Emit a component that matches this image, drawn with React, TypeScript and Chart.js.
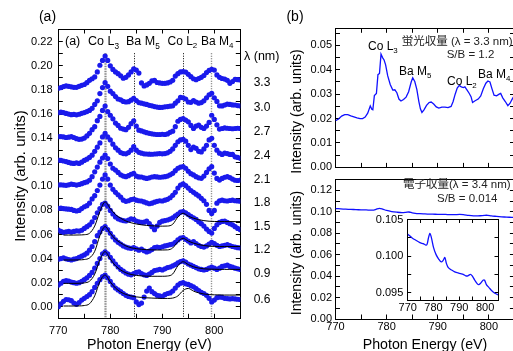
import React, { useEffect, useRef } from 'react';
import { Chart, registerables } from 'chart.js';
Chart.register(...registerables);

const FONT = '"Liberation Sans", Arial, "Noto Sans CJK JP", sans-serif';

// ---------------- Panel (a) data ----------------
const energyA = [
  770, 770.5, 771, 771.5, 772, 772.5, 773, 773.5, 774, 774.5,
  775, 775.5, 776, 776.5, 777, 777.5, 778, 778.5, 779, 779.5,
  780, 780.5, 781, 781.5, 782, 782.5, 783, 783.5, 784, 784.5,
  785, 785.5, 786, 786.5, 787, 787.5, 788, 788.5, 789, 789.5,
  790, 790.5, 791, 791.5, 792, 792.5, 793, 793.5, 794, 794.5,
  795, 795.5, 796, 796.5, 797, 797.5, 798, 798.5, 799, 799.5,
  800, 800.5, 801, 801.5, 802, 802.5, 803, 803.5, 804, 804.5,
  805,
];

const intensity33 = [
  0.1814, 0.1820, 0.1828, 0.1833, 0.1830, 0.1826, 0.1822, 0.1822, 0.1830, 0.1838,
  0.1845, 0.1860, 0.1880, 0.1893, 0.1908, 0.1950, 0.2005, 0.2045, 0.2082, 0.2045,
  0.2000, 0.1970, 0.1950, 0.1935, 0.1918, 0.1897, 0.1905, 0.1925, 0.1950, 0.1975,
  0.1965, 0.1940, 0.1858, 0.1833, 0.1842, 0.1855, 0.1875, 0.1880, 0.1862, 0.1858,
  0.1855, 0.1855, 0.1858, 0.1866, 0.1880, 0.1915, 0.1935, 0.1950, 0.1952, 0.1948,
  0.1930, 0.1910, 0.1893, 0.1885, 0.1895, 0.1905, 0.1920, 0.1945, 0.1962, 0.1972,
  0.1965, 0.1925, 0.1905, 0.1895, 0.1890, 0.1880, 0.1855, 0.1870, 0.1888, 0.1885,
  0.1883,
];
const intensity30 = [
  0.1611, 0.1615, 0.1612, 0.1605, 0.1600, 0.1595, 0.1597, 0.1593, 0.1598, 0.1606,
  0.1612, 0.1620, 0.1630, 0.1647, 0.1680, 0.1710, 0.1770, 0.1820, 0.1860, 0.1830,
  0.1790, 0.1770, 0.1745, 0.1725, 0.1718, 0.1705, 0.1700, 0.1703, 0.1715, 0.1730,
  0.1712, 0.1695, 0.1690, 0.1685, 0.1680, 0.1672, 0.1668, 0.1662, 0.1658, 0.1655,
  0.1656, 0.1660, 0.1662, 0.1665, 0.1668, 0.1690, 0.1710, 0.1738, 0.1735, 0.1725,
  0.1700, 0.1697, 0.1712, 0.1700, 0.1690, 0.1695, 0.1710, 0.1735, 0.1760, 0.1772,
  0.1735, 0.1705, 0.1668, 0.1667, 0.1675, 0.1683, 0.1680, 0.1676, 0.1675, 0.1670,
  0.1667,
];
const intensity27 = [
  0.1412, 0.1413, 0.1410, 0.1405, 0.1408, 0.1412, 0.1405, 0.1395, 0.1390, 0.1392,
  0.1400, 0.1418, 0.1440, 0.1470, 0.1495, 0.1545, 0.1580, 0.1630, 0.1666, 0.1620,
  0.1590, 0.1560, 0.1525, 0.1505, 0.1482, 0.1475, 0.1470, 0.1490, 0.1520, 0.1544,
  0.1500, 0.1466, 0.1460, 0.1452, 0.1445, 0.1440, 0.1436, 0.1432, 0.1430, 0.1430,
  0.1432, 0.1430, 0.1435, 0.1448, 0.1458, 0.1495, 0.1540, 0.1555, 0.1563, 0.1550,
  0.1535, 0.1505, 0.1480, 0.1500, 0.1508, 0.1490, 0.1480, 0.1500, 0.1530, 0.1590,
  0.1555, 0.1510, 0.1475, 0.1480, 0.1485, 0.1482, 0.1480, 0.1478, 0.1480, 0.1482,
  0.1480,
];
const intensity24 = [
  0.1218, 0.1215, 0.1210, 0.1205, 0.1198, 0.1192, 0.1190, 0.1195, 0.1190, 0.1200,
  0.1215, 0.1225, 0.1240, 0.1258, 0.1290, 0.1325, 0.1360, 0.1410, 0.1439, 0.1410,
  0.1385, 0.1350, 0.1320, 0.1300, 0.1280, 0.1272, 0.1270, 0.1280, 0.1300, 0.1329,
  0.1300, 0.1282, 0.1275, 0.1270, 0.1268, 0.1267, 0.1266, 0.1268, 0.1270, 0.1272,
  0.1270, 0.1272, 0.1278, 0.1290, 0.1310, 0.1340, 0.1370, 0.1385, 0.1390, 0.1375,
  0.1340, 0.1305, 0.1325, 0.1315, 0.1290, 0.1285, 0.1310, 0.1340, 0.1385, 0.1398,
  0.1340, 0.1300, 0.1275, 0.1265, 0.1275, 0.1272, 0.1265, 0.1265, 0.1245, 0.1240,
  0.1232,
];
const intensity21 = [
  0.1011, 0.1012, 0.1010, 0.1008, 0.1012, 0.1018, 0.1015, 0.1010, 0.1015, 0.1022,
  0.1030, 0.1036, 0.1050, 0.1080, 0.1120, 0.1160, 0.1200, 0.1235, 0.1260, 0.1230,
  0.1185, 0.1150, 0.1135, 0.1115, 0.1095, 0.1085, 0.1080, 0.1088, 0.1100, 0.1108,
  0.1085, 0.1078, 0.1077, 0.1070, 0.1065, 0.1070, 0.1077, 0.1080, 0.1078, 0.1075,
  0.1077, 0.1080, 0.1085, 0.1095, 0.1108, 0.1130, 0.1150, 0.1160, 0.1163, 0.1150,
  0.1125, 0.1105, 0.1094, 0.1080, 0.1070, 0.1066, 0.1085, 0.1115, 0.1145, 0.1163,
  0.1110, 0.1065, 0.1052, 0.1065, 0.1075, 0.1080, 0.1072, 0.1060, 0.1050, 0.1048,
  0.1052,
];
const intensity18 = [
  0.0817, 0.0818, 0.0815, 0.0812, 0.0810, 0.0808, 0.0800, 0.0795, 0.0800, 0.0815,
  0.0830, 0.0839, 0.0860, 0.0895, 0.0922, 0.0965, 0.1010, 0.1060, 0.1094, 0.1060,
  0.1010, 0.0975, 0.0950, 0.0930, 0.0910, 0.0885, 0.0875, 0.0880, 0.0890, 0.0894,
  0.0885, 0.0880, 0.0878, 0.0870, 0.0862, 0.0855, 0.0860, 0.0868, 0.0875, 0.0880,
  0.0878, 0.0885, 0.0892, 0.0905, 0.0925, 0.0950, 0.0985, 0.1010, 0.1020, 0.1005,
  0.0985, 0.0965, 0.0950, 0.0935, 0.0920, 0.0900, 0.0880, 0.0850, 0.0800, 0.0775,
  0.0800, 0.0860, 0.0880, 0.0885, 0.0880, 0.0878, 0.0882, 0.0885, 0.0880, 0.0878,
  0.0876,
];
const intensity15 = [
  0.0637, 0.0625, 0.0618, 0.0622, 0.0625, 0.0620, 0.0625, 0.0630, 0.0628, 0.0635,
  0.0650, 0.0665, 0.0680, 0.0705, 0.0740, 0.0780, 0.0815, 0.0850, 0.0860, 0.0835,
  0.0800, 0.0770, 0.0745, 0.0730, 0.0722, 0.0715, 0.0712, 0.0720, 0.0730, 0.0725,
  0.0712, 0.0705, 0.0700, 0.0702, 0.0710, 0.0690, 0.0665, 0.0640, 0.0670, 0.0700,
  0.0710, 0.0715, 0.0720, 0.0728, 0.0738, 0.0755, 0.0770, 0.0785, 0.0790, 0.0780,
  0.0765, 0.0750, 0.0738, 0.0725, 0.0705, 0.0690, 0.0670, 0.0645, 0.0625, 0.0612,
  0.0650, 0.0680, 0.0700, 0.0708, 0.0710, 0.0700, 0.0690, 0.0680, 0.0665, 0.0650,
  0.0640,
];
const intensity12 = [
  0.0395, 0.0400, 0.0405, 0.0398, 0.0392, 0.0388, 0.0395, 0.0400, 0.0410, 0.0420,
  0.0430, 0.0445, 0.0470, 0.0500, 0.0540, 0.0590, 0.0620, 0.0650, 0.0665, 0.0640,
  0.0610, 0.0580, 0.0555, 0.0535, 0.0520, 0.0505, 0.0495, 0.0488, 0.0485, 0.0490,
  0.0480, 0.0470, 0.0478, 0.0465, 0.0455, 0.0462, 0.0475, 0.0490, 0.0495, 0.0492,
  0.0498, 0.0505, 0.0510, 0.0515, 0.0520, 0.0535, 0.0555, 0.0570, 0.0575, 0.0560,
  0.0545, 0.0530, 0.0540, 0.0525, 0.0510, 0.0500, 0.0495, 0.0505, 0.0520, 0.0535,
  0.0525, 0.0510, 0.0500, 0.0505, 0.0510, 0.0515, 0.0508, 0.0500, 0.0495, 0.0490,
  0.0488,
];
const intensity09 = [
  0.0180, 0.0195, 0.0210, 0.0218, 0.0212, 0.0205, 0.0200, 0.0195, 0.0200, 0.0210,
  0.0225, 0.0240, 0.0260, 0.0285, 0.0320, 0.0360, 0.0400, 0.0440, 0.0455, 0.0440,
  0.0410, 0.0380, 0.0355, 0.0330, 0.0310, 0.0295, 0.0280, 0.0270, 0.0265, 0.0275,
  0.0285, 0.0290, 0.0275, 0.0265, 0.0260, 0.0270, 0.0285, 0.0300, 0.0305, 0.0310,
  0.0305, 0.0315, 0.0325, 0.0330, 0.0340, 0.0350, 0.0365, 0.0375, 0.0380, 0.0370,
  0.0355, 0.0345, 0.0335, 0.0325, 0.0315, 0.0310, 0.0305, 0.0310, 0.0320, 0.0330,
  0.0320, 0.0310, 0.0320, 0.0335, 0.0340, 0.0345, 0.0335, 0.0330, 0.0320, 0.0315,
  0.0310,
];
const intensity06 = [
  0.0000, 0.0025, 0.0045, 0.0060, 0.0058, 0.0050, 0.0030, 0.0020, 0.0035, 0.0055,
  0.0070, 0.0085, 0.0100, 0.0125, 0.0160, 0.0195, 0.0225, 0.0250, 0.0263, 0.0240,
  0.0210, 0.0180, 0.0155, 0.0140, 0.0125, 0.0110, 0.0095, 0.0085, 0.0080, 0.0075,
  0.0040, 0.0018, 0.0030, 0.0080, 0.0130, 0.0155, 0.0125, 0.0110, 0.0095, 0.0090,
  0.0085, 0.0100, 0.0110, 0.0115, 0.0130, 0.0155, 0.0180, 0.0195, 0.0200, 0.0190,
  0.0185, 0.0175, 0.0165, 0.0150, 0.0135, 0.0120, 0.0110, 0.0095, 0.0070, 0.0040,
  0.0055, 0.0075, 0.0080, 0.0078, 0.0070, 0.0068, 0.0065, 0.0068, 0.0065, 0.0062,
  0.0060,
];

const fitEnergy = [
  771, 772, 773, 774, 775, 776, 777, 778, 779, 780, 781, 782, 783, 784, 785, 786, 787, 788,
  789, 790, 791, 792, 793, 794, 795, 796, 797, 798, 799, 800, 801, 802, 803, 804, 805,
];
const fit15 = [
  0.0595, 0.0595, 0.0595, 0.0596, 0.0598, 0.0610, 0.0670, 0.0790, 0.0870, 0.0815, 0.0765, 0.0735,
  0.0712, 0.0697, 0.0687, 0.0680, 0.0675, 0.0672, 0.0670, 0.0669, 0.0670, 0.0685, 0.0745, 0.0776,
  0.0752, 0.0735, 0.0723, 0.0715, 0.0710, 0.0708, 0.0707, 0.0707, 0.0707, 0.0707, 0.0707,
];
const fit12 = [
  0.0388, 0.0388, 0.0388, 0.0389, 0.0392, 0.0405, 0.0460, 0.0590, 0.0665, 0.0610, 0.0560, 0.0530,
  0.0505, 0.0490, 0.0482, 0.0477, 0.0474, 0.0472, 0.0471, 0.0471, 0.0472, 0.0488, 0.0540, 0.0568,
  0.0545, 0.0528, 0.0516, 0.0508, 0.0503, 0.0501, 0.0500, 0.0500, 0.0500, 0.0500, 0.0500,
];
const fit09 = [
  0.0194, 0.0194, 0.0194, 0.0195, 0.0198, 0.0212, 0.0270, 0.0390, 0.0457, 0.0395, 0.0340, 0.0305,
  0.0282, 0.0268, 0.0260, 0.0256, 0.0254, 0.0253, 0.0253, 0.0253, 0.0255, 0.0272, 0.0340, 0.0374,
  0.0350, 0.0332, 0.0321, 0.0315, 0.0312, 0.0311, 0.0310, 0.0310, 0.0310, 0.0310, 0.0310,
];
const fit06 = [
  0.0006, 0.0006, 0.0006, 0.0007, 0.0010, 0.0025, 0.0090, 0.0210, 0.0263, 0.0205, 0.0155, 0.0122,
  0.0102, 0.0090, 0.0082, 0.0077, 0.0074, 0.0072, 0.0070, 0.0069, 0.0069, 0.0072, 0.0090, 0.0135,
  0.0152, 0.0130, 0.0115, 0.0106, 0.0101, 0.0099, 0.0098, 0.0097, 0.0097, 0.0097, 0.0097,
];

const lambdaLabels = ['3.3', '3.0', '2.7', '2.4', '2.1', '1.8', '1.5', '1.2', '0.9', '0.6'];
const edgeLabels = [
  { main: 'Co L', sub: '3' },
  { main: 'Ba M', sub: '5' },
  { main: 'Co L', sub: '2' },
  { main: 'Ba M', sub: '4' },
];
const edgeEnergies = [779.0, 784.6, 793.9, 799.4];

// ---------------- Panel (b) data ----------------
const fyEnergy = [
  770.0, 770.6, 771.2, 771.8, 772.4, 773.0, 773.6, 774.2, 774.8, 775.3, 775.8, 776.3, 776.8, 777.1,
  777.3, 777.6, 778.0, 778.3, 778.6, 778.9, 779.2, 779.5, 779.8, 780.2, 780.7, 781.2, 781.6, 782.0,
  782.4, 782.8, 783.3, 783.8, 784.3, 784.8, 785.1, 785.5, 785.9, 786.3, 786.6, 786.9, 787.3, 787.8,
  788.3, 788.7, 789.2, 789.7, 790.2, 790.8, 791.4, 792.0, 792.6, 793.0, 793.4, 793.8, 794.2, 794.6,
  795.0, 795.3, 795.7, 796.1, 796.5, 796.8, 797.3, 797.9, 798.4, 798.9, 799.4, 799.8, 800.2, 800.6,
  801.0, 801.5, 802.0, 802.3, 802.7, 803.2, 803.7, 804.1, 804.6, 805.0,
];
const fyIntensity = [
  0.0191, 0.0198, 0.0210, 0.0216, 0.0216, 0.0211, 0.0207, 0.0203, 0.0200, 0.0200, 0.0206, 0.0222, 0.0252, 0.0238,
  0.0236, 0.0294, 0.0303, 0.0380, 0.0385, 0.0464, 0.0450, 0.0440, 0.0420, 0.0376, 0.0340, 0.0317, 0.0318, 0.0306,
  0.0280, 0.0272, 0.0278, 0.0288, 0.0310, 0.0350, 0.0367, 0.0352, 0.0320, 0.0270, 0.0240, 0.0225, 0.0236, 0.0254,
  0.0266, 0.0268, 0.0260, 0.0248, 0.0243, 0.0247, 0.0247, 0.0245, 0.0250, 0.0270, 0.0300, 0.0325, 0.0336, 0.0330,
  0.0327, 0.0330, 0.0318, 0.0305, 0.0290, 0.0266, 0.0273, 0.0280, 0.0293, 0.0322, 0.0345, 0.0354, 0.0350, 0.0322,
  0.0296, 0.0293, 0.0300, 0.0303, 0.0285, 0.0270, 0.0253, 0.0262, 0.0282, 0.0295,
];

const eyEnergy = [
  770, 771, 772, 773, 774, 775, 776, 777, 777.5, 778, 778.6, 779.2, 780, 781, 782, 783, 783.7, 784.4,
  785, 785.6, 786.5, 787.5, 788.5, 789.5, 790.5, 791.5, 792.5, 793.3, 794.3, 795, 796, 797, 797.6,
  798.3, 799.2, 799.8, 800.5, 801.5, 802.5, 803.5, 804.5, 805,
];
const eyIntensity = [
  0.1030, 0.1027, 0.1024, 0.1022, 0.1020, 0.1018, 0.1017, 0.1015, 0.1016, 0.1024, 0.1031, 0.1025,
  0.1012, 0.1002, 0.0996, 0.0992, 0.0994, 0.0998, 0.0990, 0.0985, 0.0982, 0.0980, 0.0978, 0.0977,
  0.0976, 0.0975, 0.0973, 0.0973, 0.0975, 0.0973, 0.0967, 0.0962, 0.0961, 0.0963, 0.0967, 0.0967,
  0.0961, 0.0957, 0.0953, 0.0950, 0.0948, 0.0947,
];

// ---------------- helpers ----------------
const DOT = '#1a1aec';
const LINE = '#1010ff';

const pts = (xs: number[], ys: number[]) => xs.map((x, i) => ({ x, y: ys[i] }));

const fmt = (labelStep: number, decimals: number) => (v: any) => {
  const n = Number(v);
  const r = n / labelStep;
  if (Math.abs(r - Math.round(r)) > 1e-6) return '';
  const val = Math.abs(n) < 1e-9 ? 0 : n;
  return val.toFixed(decimals);
};

const tickValues = (min: number, max: number, step: number) => {
  const out: number[] = [];
  const k0 = Math.ceil(min / step - 1e-7);
  const k1 = Math.floor(max / step + 1e-7);
  for (let k = k0; k <= k1; k++) out.push(Number((k * step).toFixed(6)));
  return out;
};

type AxisOpts = { labelStep?: number; decimals?: number; pad?: number; tick?: number; fontSize?: number };
function axis(position: string, min: number, max: number, step: number, size: number, o: AxisOpts = {}) {
  const showLabels = o.labelStep !== undefined;
  const vertical = position === 'left' || position === 'right';
  const values = tickValues(min, max, step);
  const tl = o.tick ?? 4.5;
  return {
    type: 'linear',
    position,
    min,
    max,
    bounds: 'data',
    afterBuildTicks: (s: any) => {
      s.ticks = values.map((value) => ({ value }));
    },
    afterFit: (s: any) => {
      if (vertical) s.width = size;
      else s.height = size;
    },
    border: { display: true, color: '#000', width: 1 },
    grid: {
      display: true,
      drawOnChartArea: false,
      drawTicks: tl !== 0,
      tickLength: -tl,
      tickColor: '#000',
      tickWidth: 1,
    },
    ticks: {
      display: showLabels,
      autoSkip: false,
      maxRotation: 0,
      minRotation: 0,
      padding: showLabels && tl === 0 ? (o.pad ?? 8) : (o.pad ?? 8),
      color: '#000',
      font: { family: FONT, size: o.fontSize ?? 11 },
      callback: showLabels ? fmt(o.labelStep as number, o.decimals ?? 2) : () => '',
    },
  };
}

type Part = { t: string; sub?: boolean };
type TextItem = { x: number; y: number; parts: Part[]; size: number; align?: 'left' | 'center' | 'right'; rot?: number; color?: string };
const txt = (x: number, y: number, s: string, size: number, align: 'left' | 'center' | 'right' = 'left', rot = 0, color = '#000'): TextItem => ({
  x, y, parts: [{ t: s }], size, align, rot, color,
});
const subTxt = (x: number, y: number, main: string, sub: string, size: number): TextItem => ({
  x, y, parts: [{ t: main }, { t: sub, sub: true }], size, align: 'left',
});

function textPlugin(id: string, items: TextItem[], ox: number, oy: number) {
  return {
    id,
    afterDraw(chart: any) {
      const ctx = chart.ctx as CanvasRenderingContext2D;
      for (const it of items) {
        ctx.save();
        ctx.translate(it.x - ox, it.y - oy);
        if (it.rot) ctx.rotate(it.rot);
        ctx.textBaseline = 'middle';
        ctx.textAlign = 'left';
        ctx.fillStyle = it.color || '#000';
        let total = 0;
        const widths = it.parts.map((p) => {
          ctx.font = `${p.sub ? it.size * 0.66 : it.size}px ${FONT}`;
          const w = ctx.measureText(p.t).width;
          total += w;
          return w;
        });
        let x0 = it.align === 'center' ? -total / 2 : it.align === 'right' ? -total : 0;
        it.parts.forEach((p, i) => {
          ctx.font = `${p.sub ? it.size * 0.66 : it.size}px ${FONT}`;
          ctx.fillText(p.t, x0, p.sub ? it.size * 0.36 : 0);
          x0 += widths[i];
        });
        ctx.restore();
      }
    },
  };
}

const edgeLineStyles = [
  { color: '#8a8a8a', width: 2.2, dash: [1.5, 1] },
  { color: '#000', width: 1, dash: [1, 1.5] },
  { color: '#000', width: 1, dash: [1, 1.5] },
  { color: '#777', width: 1.4, dash: [1, 1.5] },
];
const edgeLineTop = 0.2105;

const edgePlugin = {
  id: 'edgeLines',
  beforeDatasetsDraw(chart: any) {
    const { ctx, chartArea, scales } = chart;
    const x = scales.x;
    const y = scales.y;
    edgeEnergies.forEach((e, i) => {
      const st = edgeLineStyles[i];
      const px = Math.round(x.getPixelForValue(e)) + 0.5;
      ctx.save();
      ctx.strokeStyle = st.color;
      ctx.lineWidth = st.width;
      ctx.setLineDash(st.dash);
      ctx.beginPath();
      ctx.moveTo(px, y.getPixelForValue(edgeLineTop));
      ctx.lineTo(px, chartArea.bottom);
      ctx.stroke();
      ctx.restore();
    });
  },
};

const baseOptions = (padding: any, scales: any) => ({
  animation: false,
  responsive: false,
  maintainAspectRatio: false,
  devicePixelRatio: 1,
  events: [],
  layout: { padding },
  plugins: { legend: { display: false }, tooltip: { enabled: false } },
  scales,
});

// canvas placements (page px)
const A = { left: 0, top: 0, w: 290, h: 351 };
const B1 = { left: 260, top: 0, w: 260, h: 182 };
const B2 = { left: 260, top: 165, w: 260, h: 186 };
const IN = { left: 360, top: 205, w: 150, h: 110 };

export default function App() {
  const refA = useRef<HTMLCanvasElement>(null);
  const refB1 = useRef<HTMLCanvasElement>(null);
  const refB2 = useRef<HTMLCanvasElement>(null);
  const refIn = useRef<HTMLCanvasElement>(null);

  useEffect(() => {
    const charts: Chart[] = [];
    Chart.defaults.font.family = FONT;
    Chart.defaults.color = '#000';

    // ---------- Panel (a) ----------
    const dotSeries = [
      intensity33, intensity30, intensity27, intensity24, intensity21,
      intensity18, intensity15, intensity12, intensity09, intensity06,
    ];
    const fitSeries = [fit15, fit12, fit09, fit06];
    const dsA: any[] = [];
    fitSeries.forEach((f, i) => {
      dsA.push({
        label: 'fit ' + i,
        data: pts(fitEnergy, f),
        showLine: true,
        pointRadius: 0,
        borderColor: '#000',
        borderWidth: 1,
        cubicInterpolationMode: 'monotone',
        order: 0,
      });
    });
    dotSeries.forEach((s, i) => {
      dsA.push({
        label: 'λ ' + lambdaLabels[i],
        data: pts(energyA, s),
        showLine: false,
        pointRadius: 2.6,
        pointBackgroundColor: DOT,
        pointBorderWidth: 0,
        borderColor: DOT,
        order: 1,
      });
    });
    const lambdaY = [82.7, 107.3, 131.7, 155.5, 179.5, 203, 226.5, 250, 273.5, 299.5];
    const textsA: TextItem[] = [
      txt(47.5, 17, '(a)', 14, 'center'),
      txt(65, 42, '(a)', 12.5),
      subTxt(88, 42, edgeLabels[0].main, edgeLabels[0].sub, 12.5),
      subTxt(126, 42, edgeLabels[1].main, edgeLabels[1].sub, 12.5),
      subTxt(167.5, 42, edgeLabels[2].main, edgeLabels[2].sub, 12),
      subTxt(201, 42, edgeLabels[3].main, edgeLabels[3].sub, 12),
      txt(244, 57, 'λ (nm)', 12.5),
      ...lambdaLabels.map((l, i) => txt(262, lambdaY[i], l, 12, 'center')),
      txt(21, 176, 'Intensity (arb. units)', 15, 'center', -Math.PI / 2),
      txt(149.3, 345, 'Photon Energy (eV)', 14.2, 'center'),
    ];
    const chartA = new Chart(refA.current as HTMLCanvasElement, {
      type: 'scatter',
      data: { datasets: dsA },
      options: baseOptions(
        { left: 0, right: 290 - 240.3, top: 29, bottom: 0 },
        {
          x: axis('bottom', 770, 805, 5, 351 - 318.3, { labelStep: 10, decimals: 0, pad: 10.6 }),
          x2: axis('top', 770, 805, 5, 0),
          y: axis('left', -0.0096, 0.2306, 0.01, 58.3, { labelStep: 0.02, decimals: 2, pad: 10.3 }),
          y2: axis('right', -0.0096, 0.2306, 0.01, 0),
        }
      ) as any,
      plugins: [edgePlugin, textPlugin('textsA', textsA, A.left, A.top)],
    } as any);
    charts.push(chartA);

    // ---------- Panel (b) top: fluorescence ----------
    const textsB1: TextItem[] = [
      txt(295, 17, '(b)', 14, 'center'),
      txt(401.7, 41.7, '蛍光収量 (λ = 3.3 nm)', 11.5, 'left', 0, '#222'),
      txt(446.7, 55, 'S/B = 1.2', 11.5, 'left', 0, '#222'),
      subTxt(368, 46.7, edgeLabels[0].main, edgeLabels[0].sub, 12),
      subTxt(399, 72, edgeLabels[1].main, edgeLabels[1].sub, 12),
      subTxt(447, 81.7, edgeLabels[2].main, edgeLabels[2].sub, 12),
      subTxt(478, 75, edgeLabels[3].main, edgeLabels[3].sub, 12),
      txt(297, 111.5, 'Intensity (arb. units)', 14.2, 'center', -Math.PI / 2),
    ];
    const chartB1 = new Chart(refB1.current as HTMLCanvasElement, {
      type: 'scatter',
      data: {
        datasets: [
          {
            label: '蛍光収量',
            data: pts(fyEnergy, fyIntensity),
            showLine: true,
            pointRadius: 0,
            borderColor: LINE,
            borderWidth: 1.3,
            tension: 0,
          },
        ],
      },
      options: baseOptions(
        { left: 0, right: B1.w - (514.5 - B1.left), top: 28.3, bottom: B1.h - 173.5 },
        {
          x: axis('bottom', 770, 805, 5, 0),
          x2: axis('top', 770, 805, 5, 0),
          y: axis('left', 0, 0.057, 0.005, 335.5 - B1.left, { labelStep: 0.01, decimals: 2, pad: 8 }),
          y2: axis('right', 0, 0.057, 0.005, 0),
        }
      ) as any,
      plugins: [textPlugin('textsB1', textsB1, B1.left, B1.top)],
    } as any);
    charts.push(chartB1);

    // ---------- Panel (b) bottom: electron yield ----------
    const textsB2: TextItem[] = [
      txt(403, 185, '電子収量(λ = 3.4 nm)', 11.5, 'left', 0, '#222'),
      txt(437, 199, 'S/B = 0.014', 11.5, 'left', 0, '#222'),
      txt(297, 253, 'Intensity (arb. units)', 14.2, 'center', -Math.PI / 2),
      txt(425, 345, 'Photon Energy (eV)', 14.2, 'center'),
    ];
    const chartB2 = new Chart(refB2.current as HTMLCanvasElement, {
      type: 'scatter',
      data: {
        datasets: [
          {
            label: '電子収量',
            data: pts(eyEnergy, eyIntensity),
            showLine: true,
            pointRadius: 0,
            borderColor: LINE,
            borderWidth: 1.3,
            tension: 0.3,
          },
        ],
      },
      options: baseOptions(
        { left: 0, right: B2.w - (514.5 - B2.left), top: 173.5 - B2.top, bottom: 0 },
        {
          x: axis('bottom', 770, 805, 5, B2.h - (319 - B2.top), { labelStep: 10, decimals: 0, pad: 5.6 }),
          x2: axis('top', 770, 805, 5, 0, { tick: 0 }),
          y: axis('left', 0, 0.13, 0.01, 335.5 - B2.left, { labelStep: 0.02, decimals: 2, pad: 8 }),
          y2: axis('right', 0, 0.13, 0.01, 0),
        }
      ) as any,
      plugins: [textPlugin('textsB2', textsB2, B2.left, B2.top)],
    } as any);
    charts.push(chartB2);

    // ---------- Inset ----------
    const chartIn = new Chart(refIn.current as HTMLCanvasElement, {
      type: 'scatter',
      data: {
        datasets: [
          {
            label: '電子収量 (inset)',
            data: pts(eyEnergy, eyIntensity),
            showLine: true,
            pointRadius: 0,
            borderColor: LINE,
            borderWidth: 1.3,
            tension: 0.3,
          },
        ],
      },
      options: baseOptions(
        { left: 0, right: IN.w - (498 - IN.left), top: 219.5 - IN.top, bottom: 0 },
        {
          x: axis('bottom', 770, 805, 5, IN.h - (300 - IN.top), { labelStep: 10, decimals: 0, pad: 5.2, tick: 3.5 }),
          x2: axis('top', 770, 805, 5, 0, { tick: 3.5 }),
          y: axis('left', 0.094, 0.105, 0.0025, 407.7 - IN.left, { labelStep: 0.005, decimals: 3, pad: 7.9, tick: 3.5 }),
          y2: axis('right', 0.094, 0.105, 0.0025, 0, { tick: 3.5 }),
        }
      ) as any,
    } as any);
    charts.push(chartIn);

    return () => {
      charts.forEach((c) => c.destroy());
    };
  }, []);

  const cs = (p: { left: number; top: number; w: number; h: number }) => ({
    position: 'absolute' as const,
    left: p.left,
    top: p.top,
    width: p.w,
    height: p.h,
  });

  return (
    <div style={{ position: 'absolute', left: 0, top: 0, width: 513, height: 351, overflow: 'hidden', background: '#fff' }}>
      <canvas ref={refA} width={A.w} height={A.h} style={cs(A)} />
      <canvas ref={refB1} width={B1.w} height={B1.h} style={cs(B1)} />
      <canvas ref={refB2} width={B2.w} height={B2.h} style={cs(B2)} />
      <canvas ref={refIn} width={IN.w} height={IN.h} style={cs(IN)} />
    </div>
  );
}
